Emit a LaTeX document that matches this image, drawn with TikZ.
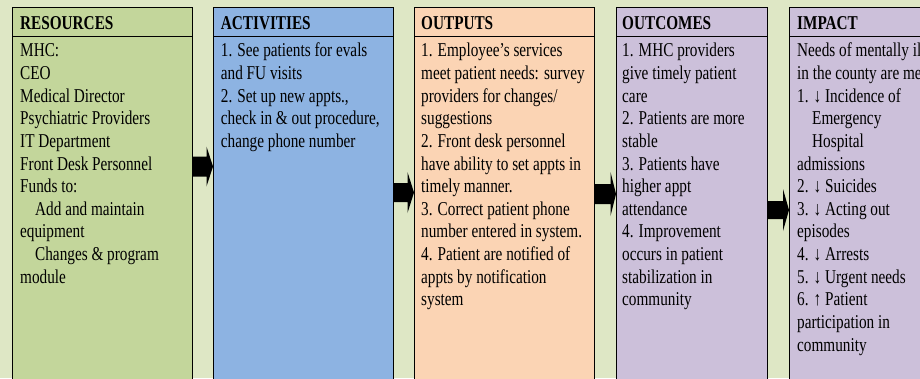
\documentclass[tikz,border=0pt]{standalone}
\usepackage{fontspec}
\setmainfont{Liberation Serif}[FakeStretch=0.778]
\usetikzlibrary{calc}
\definecolor{bgc}{RGB}{222,231,197}
\definecolor{resc}{RGB}{195,214,155}
\definecolor{actc}{RGB}{141,179,226}
\definecolor{outc}{RGB}{251,212,180}
\definecolor{purc}{RGB}{204,192,218}
\newcommand\boxtext[1]{\parbox[t]{300pt}{\raggedright\fontsize{19.6pt}{22.66pt}\selectfont #1}}
\newcommand\ind{\hspace*{15pt}}
\newcommand\barrow[5]{%
  \fill ($(#1)+(0,-#3)$) -- ($(#2)+(-#5,-#3)$) -- ($(#2)+(-#5,-#4)$) -- (#2)
    -- ($(#2)+(-#5,#4)$) -- ($(#2)+(-#5,#3)$) -- ($(#1)+(0,#3)$) -- cycle;}
\tikzset{
  box/.style={draw=black, line width=1pt, anchor=north west, minimum height=400pt,
    inner sep=0pt, outer sep=0pt},
  hdr/.style={anchor=base west, inner sep=0pt, font=\fontsize{19.6pt}{22.66pt}\selectfont\bfseries},
  body/.style={anchor=base west, inner sep=0pt},
  hline/.style={draw=black, line width=1pt}
}
\begin{document}
\begin{tikzpicture}[x=1pt,y=-1pt]
\useasboundingbox (0,0) rectangle (920,378);
\clip (0,0) rectangle (920,378);
\fill[bgc] (0,0) rectangle (920,378);
% boxes
\node[box, fill=resc, minimum width=180pt] (b1) at (12,7) {};
\node[box, fill=actc, minimum width=180pt] (b2) at (213,7) {};
\node[box, fill=outc, minimum width=180pt] (b3) at (414,7) {};
\node[box, fill=purc, minimum width=151pt] (b4) at (616,7) {};
\node[box, fill=purc, minimum width=180pt] (b5) at (789,7) {};
% header lines
\coordinate (hl) at (0,36);
\foreach \b in {b1,b2,b3,b4,b5}{
  \draw[hline] (\b.west |- hl) -- (\b.east |- hl);
}
% headers
\node[hdr] (h1) at (20,29.3) {RESOURCES};
\node[hdr] (h2) at (220.7,29.3) {ACTIVITIES};
\node[hdr] (h3) at (421,29.3) {OUTPUTS};
\node[hdr] (h4) at (622,29.3) {OUTCOMES};
\node[hdr] (h5) at (797,29.3) {IMPACT};
% bodies
\node[body] (t1) at (20,56.7) {\boxtext{MHC:\\ CEO\\ Medical Director\\ Psychiatric Providers\\ IT Department\\ Front Desk Personnel\\ Funds to:\\ \ind Add and maintain\\ equipment\\ \ind Changes \& program\\ module}};
\node[body] (t2) at (220.7,56.7) {\boxtext{1. See patients for evals\\ and FU visits\\ 2. Set up new appts.,\\ check in \& out procedure,\\ change phone number}};
\node[body] (t3) at (421,56.7) {\boxtext{1. Employee’s services\\ meet patient needs: survey\\ providers for changes/\\ suggestions\\ 2. Front desk personnel\\ have ability to set appts in\\ timely manner.\\ 3. Correct patient phone\\ number entered in system.\\ 4. Patient are notified of\\ appts by notification\\ system}};
\node[body] (t4) at (622,56.7) {\boxtext{1. MHC providers\\ give timely patient\\ care\\ 2. Patients are more\\ stable\\ 3. Patients have\\ higher appt\\ attendance\\ 4. Improvement\\ occurs in patient\\ stabilization in\\ community}};
\node[body] (t5) at (797,56.7) {\boxtext{Needs of mentally ill\\ in the county are met\\ 1. ↓ Incidence of\\ \ind Emergency\\ \ind Hospital\\ admissions\\ 2. ↓ Suicides\\ 3. ↓ Acting out\\ episodes\\ 4. ↓ Arrests\\ 5. ↓ Urgent needs\\ 6. ↑ Patient\\ participation in\\ community}};
% arrows
\coordinate (y1) at (0,166.5);
\coordinate (y2) at (0,192.5);
\coordinate (y3) at (0,194);
\coordinate (y4) at (0,210);
\coordinate (a1s) at (b1.east |- y1); \coordinate (a1e) at (b2.west |- y1);
\coordinate (a2s) at (b2.east |- y2); \coordinate (a2e) at (b3.west |- y2);
\coordinate (a3s) at (b3.east |- y3); \coordinate (a3e) at (b4.west |- y3);
\coordinate (a4s) at (b4.east |- y4); \coordinate (a4e) at (b5.west |- y4);
\barrow{a1s}{a1e}{10}{20}{6.5}
\barrow{a2s}{a2e}{9.5}{20.5}{6.5}
\barrow{a3s}{a3e}{10}{22}{5.5}
\barrow{a4s}{a4e}{9}{21}{6}
\end{tikzpicture}
\end{document}
